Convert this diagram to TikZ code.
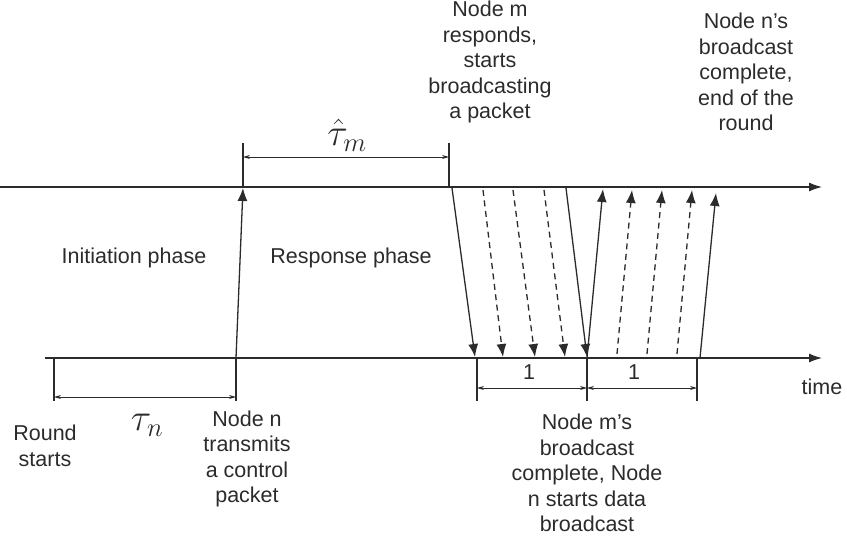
\RequirePackage{fix-cm}
\documentclass[tikz,border=0pt]{standalone}
\usepackage{fontspec}
\setmainfont{Liberation Sans}
\usetikzlibrary{arrows.meta}
\definecolor{ink}{HTML}{2B2B2B}
\begin{document}
\begin{tikzpicture}[x=1pt,y=-1pt,
  axis/.style={draw=ink, line width=1.2pt, -{Latex[length=13pt,width=9pt]}},
  sig/.style={draw=ink, line width=1.3pt, -{Latex[length=13pt,width=10pt]}},
  dsig/.style={sig, dash pattern=on 6pt off 4.5pt},
  tickmark/.style={draw=ink, line width=1.1pt},
  dim/.style={draw=ink, line width=0.8pt, {Stealth[length=7pt,width=4pt]}-{Stealth[length=7pt,width=4pt]}},
  lbl/.style={text=ink, font=\fontsize{21.5}{25.5}\selectfont, align=center, inner sep=0pt},
  mathlbl/.style={text=ink, font=\fontsize{38}{42}\selectfont, inner sep=0pt},
]
\useasboundingbox (0,0) rectangle (847,544);

% time lines
\coordinate (t0) at (0,187);   \coordinate (t1) at (822,187);
\coordinate (b0) at (45,358);  \coordinate (b1) at (822,358);
\draw[axis] (t0) -- (t1);
\draw[axis] (b0) -- (b1);

% control packet
\coordinate (nA) at (236,358); \coordinate (nB) at (243,188);
\draw[sig] (nA) -- (nB);

% node m broadcast (down)
\coordinate (d1s) at (452,188); \coordinate (d1e) at (475,357);
\coordinate (d2s) at (483,190); \coordinate (d2e) at (503,357);
\coordinate (d3s) at (513,190); \coordinate (d3e) at (535,357);
\coordinate (d4s) at (544,190); \coordinate (d4e) at (565,357);
\coordinate (d5s) at (566,188); \coordinate (d5e) at (587,357);
\draw[sig]  (d1s) -- (d1e);
\draw[dsig] (d2s) -- (d2e);
\draw[dsig] (d3s) -- (d3e);
\draw[dsig] (d4s) -- (d4e);
\draw[sig]  (d5s) -- (d5e);

% node n broadcast (up)
\coordinate (u1s) at (587,358); \coordinate (u1e) at (603,189);
\coordinate (u2s) at (617,354); \coordinate (u2e) at (632,190);
\coordinate (u3s) at (647,354); \coordinate (u3e) at (662,190);
\coordinate (u4s) at (677,354); \coordinate (u4e) at (692,190);
\coordinate (u5s) at (700,358); \coordinate (u5e) at (716,193);
\draw[sig]  (u1s) -- (u1e);
\draw[dsig] (u2s) -- (u2e);
\draw[dsig] (u3s) -- (u3e);
\draw[dsig] (u4s) -- (u4e);
\draw[sig]  (u5s) -- (u5e);

% tau hat m
\coordinate (p1a) at (243,143); \coordinate (p1b) at (243,187);
\coordinate (p2a) at (449,143); \coordinate (p2b) at (449,187);
\draw[tickmark] (p1a) -- (p1b);
\draw[tickmark] (p2a) -- (p2b);
\coordinate (h1) at (243,157); \coordinate (h2) at (449,157);
\draw[dim] (h1) -- (h2);
\node[mathlbl] (tm) at (347,135) {$\hat{\tau}_m$};

% tau n
\coordinate (q1a) at (54,358); \coordinate (q1b) at (54,401);
\coordinate (q2a) at (236,358); \coordinate (q2b) at (236,401);
\draw[tickmark] (q1a) -- (q1b);
\draw[tickmark] (q2a) -- (q2b);
\coordinate (g1) at (54,397); \coordinate (g2) at (236,397);
\draw[dim] (g1) -- (g2);
\node[mathlbl] (tn) at (147,425) {$\tau_n$};

% unit intervals
\coordinate (r1a) at (477,358); \coordinate (r1b) at (477,401);
\coordinate (r2a) at (587,358); \coordinate (r2b) at (587,401);
\coordinate (r3a) at (697,358); \coordinate (r3b) at (697,401);
\draw[tickmark] (r1a) -- (r1b);
\draw[tickmark] (r2a) -- (r2b);
\draw[tickmark] (r3a) -- (r3b);
\coordinate (k1) at (477,388); \coordinate (k2) at (587,388); \coordinate (k3) at (697,388);
\draw[dim] (k1) -- (k2);
\draw[dim] (k2) -- (k3);
\node[lbl] (one1) at (529,372) {1};
\node[lbl] (one2) at (634,372) {1};

% texts
\node[lbl] (ip) at (134,258) {Initiation phase};
\node[lbl] (rp) at (351,258) {Response phase};
\node[lbl] (tlab) at (822,387) {time};
\node[lbl] (mresp) at (490,62) {Node m\\responds,\\starts\\broadcasting\\a packet};
\node[lbl] (nend) at (746,72) {Node n's\\broadcast\\complete,\\end of the\\round};
\node[lbl] (rs) at (45,446) {Round\\starts};
\node[lbl] (ntx) at (247,459) {Node n\\transmits\\a control\\packet};
\node[lbl] (mdone) at (587,473) {Node m's\\broadcast\\complete, Node\\n starts data\\broadcast};
\end{tikzpicture}
\end{document}
